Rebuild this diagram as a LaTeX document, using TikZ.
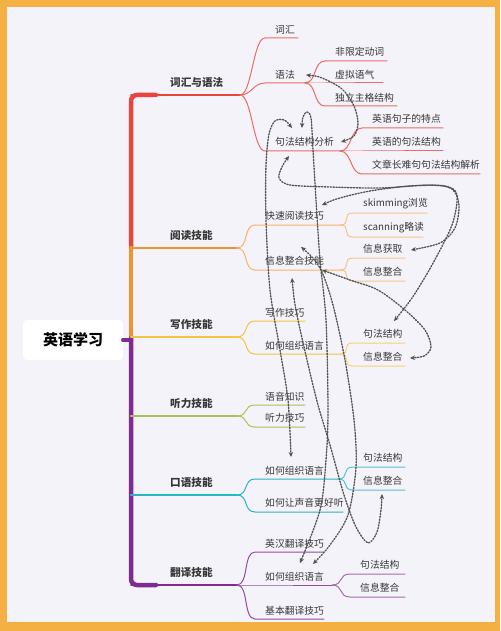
\documentclass[tikz,border=0pt]{standalone}
\usepackage{fontspec}
\setmainfont{Noto Sans CJK SC}
\usetikzlibrary{arrows.meta}

\definecolor{frame}{HTML}{F5B043}
\definecolor{panel}{HTML}{F5F3FA}
\definecolor{ink}{HTML}{363636}
\definecolor{cRed}{HTML}{E5473F}
\definecolor{cOrange}{HTML}{F0922E}
\definecolor{cYellow}{HTML}{F2C640}
\definecolor{cGreen}{HTML}{A8C259}
\definecolor{cCyan}{HTML}{2BB3C6}
\definecolor{cPurple}{HTML}{7E2C92}

\tikzset{
	trunk/.style={line width=4.5pt},
	limb/.style={line width=1.6pt},
	twig line/.style={line width=1pt},
	limb label/.style={anchor=south west, inner sep=1pt, text=ink, font=\fontsize{10.6}{12}\selectfont\bfseries},
	leaf/.style={anchor=south west, inner sep=1pt, text=ink, font=\fontsize{9.8}{11}\selectfont},
	root/.style={fill=white, rounded corners=4pt, minimum width=100pt, minimum height=40pt, font=\fontsize{15}{18}\selectfont\bfseries},
	link/.style={draw=black!68, line width=1.35pt, dash pattern=on 1.3pt off 1.6pt, <->},
}
% one branch: colour, fan point, start x, y, end x, name, text
\newcommand{\twig}[7]{%
	\draw[twig line,#1] (#2) .. controls +(12,0) and +(-12,0) .. (#3,#4) -- (#5,#4);
	\node[leaf, xshift=9pt, yshift=3pt] (#6) at (#3,#4) {#7};
}

\begin{document}
\begin{tikzpicture}[x=1pt, y=-1pt, line cap=round, line join=round, >={Stealth[length=5pt,width=4.5pt]}]
	\useasboundingbox (0,0) rectangle (500,631);
	\fill[frame] (0,0) rectangle (500,631);
	\fill[panel] (7,7) rectangle (495,622);

	% trunk
	\draw[trunk,cRed,rounded corners=6pt] (131,248) |- (156,95);
	\draw[trunk,cOrange] (131,248) -- (131,338);
	\draw[trunk,cPurple,rounded corners=6pt] (131,338) |- (156,585);
	\node[root] (root) at (73,340) {英语学习};
	\draw[trunk,cPurple] (root.east) -- (131,340);

	% main limbs
	\coordinate (fVocab) at (240,95);
	\coordinate (fRead) at (237,248);
	\coordinate (fWrite) at (237,337);
	\coordinate (fListen) at (237,416);
	\coordinate (fSpeak) at (237,495);
	\coordinate (fTrans) at (237,585);
	\draw[limb,cRed] (131,95) -- (fVocab);
	\draw[limb,cOrange] (131,248) -- (fRead);
	\draw[limb,cYellow] (131,337) -- (fWrite);
	\draw[limb,cGreen] (131,416) -- (fListen);
	\draw[limb,cCyan] (131,495) -- (fSpeak);
	\draw[limb,cPurple] (131,585) -- (fTrans);
	\foreach \y/\c in {248/cOrange,337/cYellow,416/cGreen,495/cCyan}
		\draw[line width=2.4pt,\c] (131,\y) -- (154,\y);
	\node[limb label, yshift=6pt] (vocabgram) at (169,95) {词汇与语法};
	\node[limb label, yshift=6pt] (reading) at (169,248) {阅读技能};
	\node[limb label, yshift=6pt] (writing) at (169,337) {写作技能};
	\node[limb label, yshift=6pt] (listening) at (169,416) {听力技能};
	\node[limb label, yshift=6pt] (speaking) at (169,495) {口语技能};
	\node[limb label, yshift=6pt] (translating) at (169,585) {翻译技能};

	% vocabulary and grammar
	\twig{cRed!80}{fVocab}{265}{38}{298}{vocab}{词汇}
	\twig{cRed!80}{fVocab}{265}{83}{305}{grammar}{语法}
	\twig{cRed!80}{fVocab}{265}{151}{340}{syntax}{句法结构分析}
	\coordinate (fGram) at (305,83);
	\twig{cRed!80}{fGram}{325}{61}{387}{nonfinite}{非限定动词}
	\twig{cRed!80}{fGram}{325}{83}{383}{subjunctive}{虚拟语气}
	\twig{cRed!80}{fGram}{325}{106}{397}{absolute}{独立主格结构}
	\coordinate (fSyn) at (340,151);
	\twig{cRed!80}{fSyn}{362}{128}{443}{features}{英语句子的特点}
	\twig{cRed!80}{fSyn}{362}{151}{443}{structure}{英语的句法结构}
	\twig{cRed!80}{fSyn}{362}{174}{480}{longsent}{文章长难句句法结构解析}

	% reading
	\twig{cOrange!70}{fRead}{255}{225}{340}{fastread}{快速阅读技巧}
	\twig{cOrange!70}{fRead}{255}{270}{340}{infoskill}{信息整合技能}
	\coordinate (fFast) at (340,225);
	\twig{cOrange!55}{fFast}{353}{213}{427}{skim}{skimming浏览}
	\twig{cOrange!55}{fFast}{353}{237}{423}{scan}{scanning略读}
	\coordinate (fInfo) at (340,270);
	\twig{cOrange!55}{fInfo}{353}{258}{405}{readget}{信息获取}
	\twig{cOrange!55}{fInfo}{353}{281}{405}{readmerge}{信息整合}

	% writing
	\twig{cYellow}{fWrite}{255}{321}{305}{wskill}{写作技巧}
	\twig{cYellow}{fWrite}{255}{354}{340}{worg}{如何组织语言}
	\coordinate (fWorg) at (340,354);
	\twig{cYellow!75}{fWorg}{353}{343}{405}{wsyn}{句法结构}
	\twig{cYellow!75}{fWorg}{353}{366}{405}{wmerge}{信息整合}

	% listening
	\twig{cGreen}{fListen}{255}{405}{305}{phonetics}{语音知识}
	\twig{cGreen}{fListen}{255}{427}{305}{lskill}{听力技巧}

	% speaking
	\twig{cCyan}{fSpeak}{255}{479}{338}{sorg}{如何组织语言}
	\twig{cCyan}{fSpeak}{255}{512}{343}{voice}{如何让声音更好听}
	\coordinate (fSorg) at (338,479);
	\twig{cCyan!80}{fSorg}{353}{467}{405}{ssyn}{句法结构}
	\twig{cCyan!80}{fSorg}{353}{490}{405}{smerge}{信息整合}

	% translating
	\twig{cPurple!85}{fTrans}{255}{552}{324}{ectrans}{英汉翻译技巧}
	\twig{cPurple!85}{fTrans}{255}{585}{332}{torg}{如何组织语言}
	\twig{cPurple!85}{fTrans}{255}{619}{324}{basictrans}{基本翻译技巧}
	\coordinate (fTorg) at (332,585);
	\twig{cPurple!70}{fTorg}{350}{574}{405}{tsyn}{句法结构}
	\twig{cPurple!70}{fTorg}{350}{597}{405}{tmerge}{信息整合}

	% dotted links
	\coordinate (aGram) at (306,75);
	\coordinate (aSyn) at (341,142);
	\coordinate (cSyn) at (292,128);
	\coordinate (cSorg) at (291,457);
	\coordinate (dSyn) at (302,128);
	\coordinate (dTorg) at (300,563);
	\coordinate (eSyn) at (289,156);
	\coordinate (eGet) at (411,250);
	\coordinate (fFastR) at (322,205);
	\coordinate (fWsyn) at (394,321);
	\coordinate (gInfo) at (301,247);
	\coordinate (gTorg) at (313,564);
	\coordinate (hInfo) at (322,270);
	\coordinate (hWmerge) at (410,358);
	\coordinate (iInfo) at (292,278);
	\coordinate (iSmerge) at (382,494);
	\draw[link] plot[smooth] coordinates {(aGram) (322,78) (342,89) (354,106) (358,123) (354,136) (aSyn)};
	\draw[link] plot[smooth] coordinates {(cSyn) (284,120) (275,121) (269,134) (266,165) (266,220) (270,290) (280,350) (288,400) (cSorg)};
	\draw[link] plot[smooth] coordinates {(dSyn) (303,117) (307,112) (311,118) (313,150) (316,200) (320,260) (326,320) (328,410) (326,460) (320,510) (dTorg)};
	\draw[link] plot[smooth] coordinates {(eSyn) (282,167) (279,178) (290,185) (330,187) (380,188) (430,185) (452,189) (459,205) (455,228) (440,243) (eGet)};
	\draw[link] plot[smooth] coordinates {(fFastR) (340,198) (370,191) (410,186) (445,186) (457,195) (452,225) (432,265) (412,298) (fWsyn)};
	\draw[link] plot[smooth] coordinates {(gInfo) (311,256) (322,272) (333,305) (345,360) (354,420) (356,467) (348,515) (330,545) (gTorg)};
	\draw[link] plot[smooth] coordinates {(hInfo) (350,280) (378,290) (405,310) (425,330) (431,347) (424,356) (hWmerge)};
	\draw[link] plot[smooth] coordinates {(iInfo) (296,310) (307,360) (318,405) (330,445) (344,495) (356,527) (368,543) (377,532) (381,510) (iSmerge)};
\end{tikzpicture}
\end{document}
